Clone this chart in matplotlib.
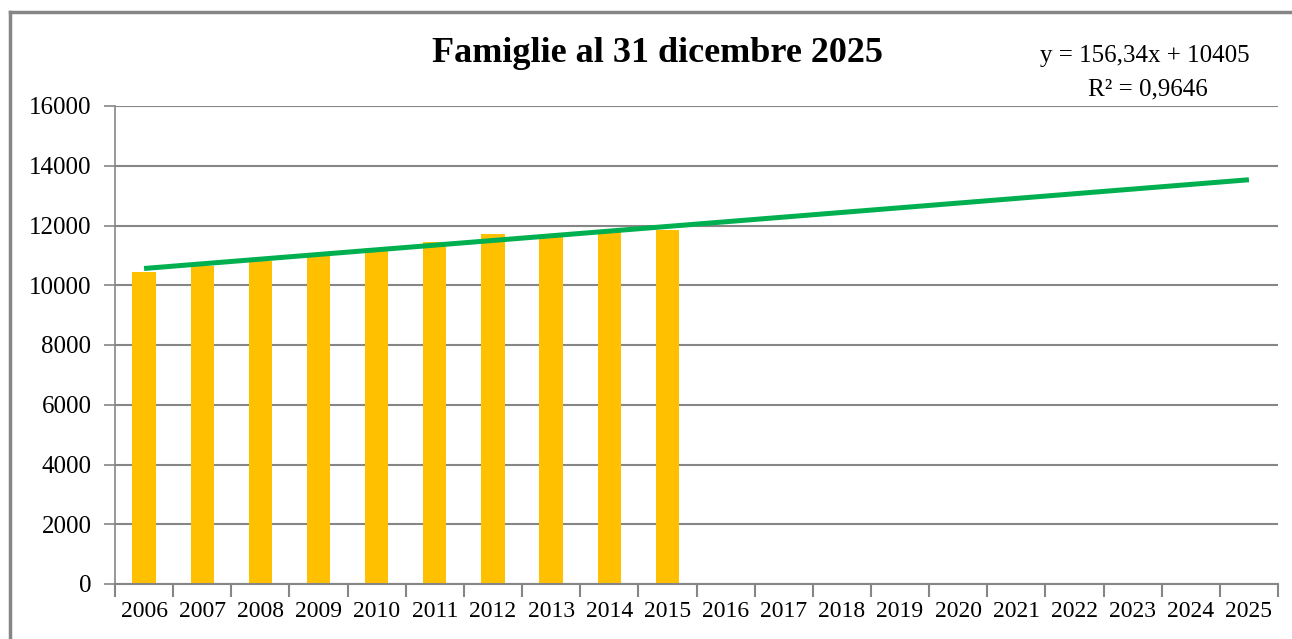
import numpy as np
import matplotlib
matplotlib.use("Agg")
import matplotlib.pyplot as plt
from matplotlib.lines import Line2D

years = [str(y) for y in range(2006, 2026)]
bar_years = years[:10]
famiglie = [10452, 10655, 10825, 10972, 11254, 11458, 11706, 11650, 11774, 11842]

# trendline: y = 156,34x + 10405
trend_slope = 156.34
trend_intercept = 10405
trend_r2 = "0,9646"

yticks = [0, 2000, 4000, 6000, 8000, 10000, 12000, 14000, 16000]

plt.rcParams['font.family'] = ['Liberation Serif', 'DejaVu Serif']

fig = plt.figure(figsize=(12.92, 6.39), dpi=100)
ax = fig.add_axes([115 / 1292, 1 - 584 / 639, (1278 - 115) / 1292, (584 - 106) / 639])

x = np.arange(len(years))
ax.bar(x[:len(bar_years)], famiglie, width=0.4, color='#FFC000', zorder=2)

tx = np.array([0, len(years) - 1])
ty = trend_slope * (tx + 1) + trend_intercept
ax.plot(tx, ty, color='#00B050', linewidth=3.6, solid_capstyle='butt', zorder=3)

ax.set_xlim(-0.5, len(years) - 0.5)
ax.set_ylim(0, 16000)
ax.set_yticks(yticks)
ax.set_yticklabels([str(v) for v in yticks], fontsize=18)
ax.yaxis.grid(True, color='#868686', linewidth=1.5, zorder=0)
ax.set_axisbelow(True)

ax.set_xticks(x)
ax.set_xticklabels(years, fontsize=17)
ax.set_xticks(np.arange(-0.5, len(years)), minor=True)
ax.tick_params(axis='x', which='major', length=0, pad=12)
ax.tick_params(axis='x', which='minor', length=9, width=1.5, color='#868686', direction='out')
ax.tick_params(axis='y', length=8, width=1.2, color='#868686', direction='out', pad=9)

for s in ['top', 'right']:
    ax.spines[s].set_visible(False)
ax.spines['left'].set_color('#868686')
ax.spines['bottom'].set_color('#868686')
ax.spines['left'].set_linewidth(1.2)
ax.spines['bottom'].set_linewidth(1.5)

fig.text(657 / 1292, 1 - 54 / 639, 'Famiglie al 31 dicembre 2025', ha='center', va='center',
         fontsize=26, fontweight='bold')
fig.text(1145 / 1292, 1 - 56 / 639, 'y = 156,34x + 10405', ha='center', va='center', fontsize=18)
fig.text(1148 / 1292, 1 - 89 / 639, 'R² = ' + trend_r2, ha='center', va='center', fontsize=18)

# chart area border (left and top edges visible)
fig.add_artist(Line2D([10 / 1292, 10 / 1292], [0, 1 - 12 / 639], color='#868686', linewidth=2.5,
                      transform=fig.transFigure))
fig.add_artist(Line2D([10 / 1292, 1], [1 - 12 / 639, 1 - 12 / 639], color='#868686', linewidth=2.5,
                      transform=fig.transFigure))

plt.savefig('out.png', dpi=100)
